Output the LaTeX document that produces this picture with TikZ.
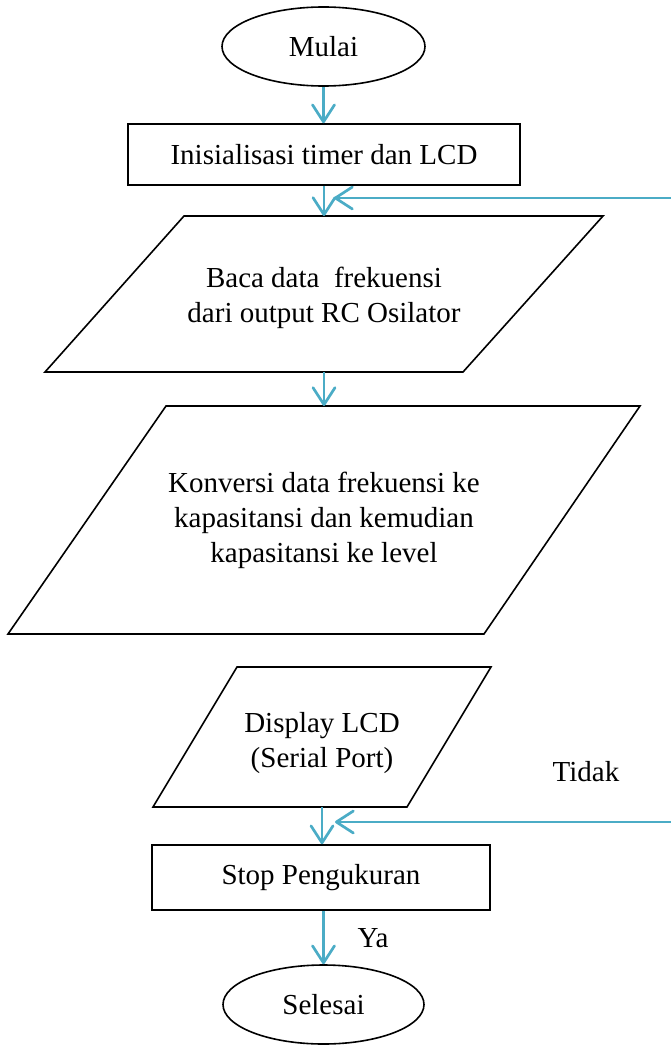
\documentclass[tikz,border=0pt]{standalone}
\usepackage{fontspec}
\setmainfont{Liberation Serif}
\usetikzlibrary{arrows.meta,shapes.geometric}
\definecolor{flowblue}{HTML}{4BACC6}
\begin{document}
\begin{tikzpicture}[x=1pt,y=-1pt,
  every node/.style={font=\fontsize{29}{35}\selectfont, inner sep=0pt, align=center},
  term/.style={draw=black, line width=1.6pt, ellipse, minimum width=203pt, minimum height=79pt},
  procbox/.style={draw=black, line width=1.6pt, rectangle},
  iobox/.style={draw=black, line width=1.6pt, line join=miter},
  arr/.style={draw=flowblue, line width=2.7pt, -{Straight Barb[length=17pt,width=22pt,line cap=round,line join=round]}},
  lbl/.style={font=\fontsize{29}{35}\selectfont}
]
\useasboundingbox (0,0) rectangle (671,1046);

% terminals and processes
\node[term] (start) at (323.5,46.5) {Mulai};
\node[procbox, minimum width=392pt, minimum height=61pt] (init) at (324,154.5) {Inisialisasi timer dan LCD};

% parallelogram 1
\draw[iobox] (184,216) -- (603,216) -- (463,372) -- (45,372) -- cycle;
\node (read) at (324,298) {Baca data\ \ frekuensi\\dari output RC Osilator};
\coordinate (readtop) at (324,216);
\coordinate (readbot) at (324,372);

% parallelogram 2
\draw[iobox] (166,406) -- (640,406) -- (484,634) -- (8,634) -- cycle;
\node (conv) at (324,520) {Konversi data frekuensi ke\\kapasitansi dan kemudian\\kapasitansi ke level};
\coordinate (convtop) at (324,406);

% parallelogram 3
\draw[iobox] (237,667) -- (491,667) -- (407,807) -- (153,807) -- cycle;
\node (disp) at (322,743) {Display LCD\\(Serial Port)};
\coordinate (dispbot) at (322,807);

\node[procbox, minimum width=338pt, minimum height=65pt] (stop) at (321,877.5) {Stop Pengukuran};
\node[term, minimum width=201pt] (end) at (323.5,1004.5) {Selesai};

% labels
\node[lbl] (tidak) at (586,772) {Tidak};
\node[lbl] (ya) at (373,938) {Ya};

% connectors
\draw[arr] (start.south) -- (start.south |- init.north);
\draw[arr] (init.south -| readtop) -- (readtop);
\draw[arr] (readbot) -- (convtop);
\draw[arr] (dispbot) -- (dispbot |- stop.north);
\draw[arr] (stop.south -| end.north) -- (end.north);

% feedback arrows from the right
\coordinate (fbAs) at (671,198);
\coordinate (fbAe) at (334,198);
\coordinate (fbBs) at (671,822);
\coordinate (fbBe) at (335,822);
\draw[arr] (fbAs) -- (fbAe);
\draw[arr] (fbBs) -- (fbBe);
\end{tikzpicture}
\end{document}
